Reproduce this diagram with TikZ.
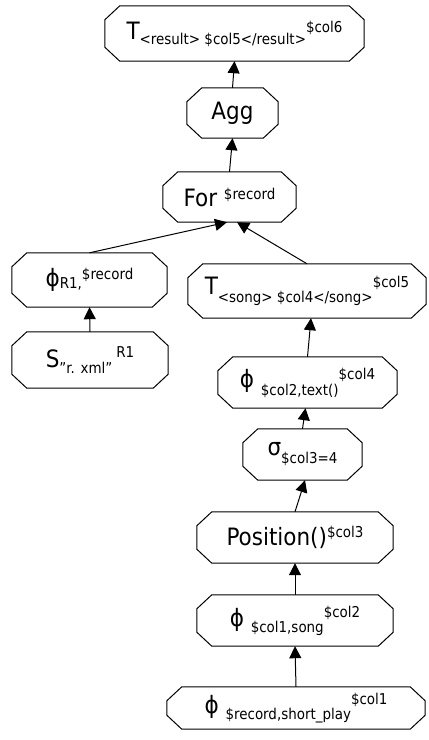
\documentclass[tikz,border=0pt]{standalone}
\usepackage{fontspec}
\setmainfont{DejaVu Sans Condensed}
\usetikzlibrary{arrows.meta}

% lowered / raised index text
\newcommand\lowtxt[2][5bp]{\raisebox{-#1}{\fontsize{15}{17}\selectfont #2}}
\newcommand\hightxt[2][7bp]{\raisebox{#1}{\fontsize{15}{17}\selectfont #2}}

% octagonal outline around a (rectangular, undrawn) node
\newcommand\octagon[1]{%
  \draw[octline] ([xshift=15bp]#1.north west) -- ([xshift=-15bp]#1.north east)
    -- ([yshift=-14bp]#1.north east) -- ([yshift=14bp]#1.south east)
    -- ([xshift=-15bp]#1.south east) -- ([xshift=15bp]#1.south west)
    -- ([yshift=14bp]#1.south west) -- ([yshift=-14bp]#1.north west) -- cycle;}

\tikzset{
  op/.style={inner sep=0pt, minimum width=#1, font=\fontsize{24}{28}\selectfont},
  octline/.style={line width=1bp, line join=miter},
  flow/.style={line width=1bp, -{Triangle[length=12bp,width=12bp]}},
}

\begin{document}
\begin{tikzpicture}[x=1bp, y=-1bp]
  \useasboundingbox (0,0) rectangle (428,740);

  \node[op=259bp, minimum height=55bp] (tres) at (234.5,33.5)
    {T\lowtxt{<result> \$col5</result>}\hightxt{\$col6}};
  \node[op=91bp, minimum height=50bp] (agg) at (232.5,113) {Agg};
  \node[op=133bp, minimum height=50bp] (for) at (229.5,197)
    {For \hightxt{\$record}};
  \node[op=155bp, minimum height=54bp] (phir1) at (89.5,280)
    {ϕ\lowtxt[2bp]{R1,}\hightxt{\$record}};
  \node[op=238bp, minimum height=54bp] (tsong) at (307,291)
    {T\lowtxt[8bp]{<song> \$col4</song>}\hightxt{\$col5}};
  \node[op=156bp, minimum height=56bp] (src) at (90,360)
    {S\lowtxt[6bp]{”r. xml”}\,\hightxt[10bp]{R1}};
  \node[op=179bp, minimum height=51bp] (phitext) at (307.5,382.5)
    {ϕ \lowtxt[8bp]{\$col2,text()}\hightxt[8bp]{\$col4}};
  \node[op=119bp, minimum height=51bp] (sigma) at (302.5,454.5)
    {σ\lowtxt[8bp]{\$col3=4}};
  \node[op=196bp, minimum height=51bp] (pos) at (295,537.5)
    {Position()\hightxt[8bp]{\$col3}};
  \node[op=196bp, minimum height=51bp] (phisong) at (295,620.5)
    {ϕ \lowtxt[6bp]{\$col1,song}\hightxt[9bp]{\$col2}};
  \node[op=258bp, minimum height=42bp] (phirec) at (296,708)
    {ϕ \lowtxt[6bp]{\$record,short\_play}\hightxt[9bp]{\$col1}};

  \foreach \n in {tres,agg,for,phir1,tsong,src,phitext,sigma,pos,phisong,phirec}
    {\octagon{\n}}

  \draw[flow] (agg.north) -- (tres.south);
  \draw[flow] (for.north) -- (agg.south);
  \draw[flow] (phir1.north) -- ([xshift=-2.5bp]for.south);
  \draw[flow] (tsong.north) -- ([xshift=7.5bp]for.south);
  \draw[flow] (src.north) -- (phir1.south);
  \draw[flow] (phitext.north) -- ([xshift=4bp]tsong.south);
  \draw[flow] (sigma.north) -- ([xshift=-2bp]phitext.south);
  \draw[flow] (pos.north) -- ([xshift=2.5bp]sigma.south);
  \draw[flow] (phisong.north) -- (pos.south);
  \draw[flow] (phirec.north) -- (phisong.south);
\end{tikzpicture}
\end{document}
